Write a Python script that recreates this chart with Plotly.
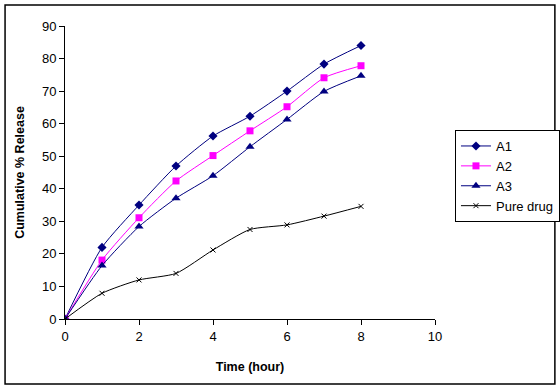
import plotly.graph_objects as go

time_h = [0, 1, 2, 3, 4, 5, 6, 7, 8]
a1 = [0, 22.0, 35.0, 47.0, 56.2, 62.3, 70.0, 78.3, 84.0]
a2 = [0, 18.1, 31.1, 42.4, 50.2, 57.8, 65.2, 74.1, 77.8]
a3 = [0, 16.4, 28.4, 37.1, 44.0, 52.9, 61.3, 69.9, 74.7]
pure = [0, 7.9, 12.0, 14.0, 21.2, 27.5, 28.9, 31.6, 34.6]

series = [
    ("A1", a1, "#000080", dict(symbol="diamond", size=7, color="#000080")),
    ("A2", a2, "#FF00FF", dict(symbol="square", size=7, color="#FF00FF")),
    ("A3", a3, "#000080", dict(symbol="triangle-up", size=8, color="#000080")),
    ("Pure drug", pure, "#000000", dict(symbol="x-thin", size=5, color="#000000",
                                        line=dict(width=1, color="#000000"))),
]

fig = go.Figure()
for name, vals, col, mk in series:
    fig.add_trace(go.Scatter(
        x=time_h, y=vals, name=name, mode="lines+markers",
        line=dict(color=col, width=1, shape="spline", smoothing=0.6),
        marker=mk,
    ))

ff = "Liberation Sans, Arial, sans-serif"

fig.update_layout(
    width=560, height=390,
    margin=dict(l=65, r=125, t=26, b=71, autoexpand=False),
    paper_bgcolor="white", plot_bgcolor="white",
    font=dict(family=ff, size=13, color="#000000"),
    showlegend=True,
    legend=dict(
        x=1.054, y=0.645, xanchor="left", yanchor="top",
        bordercolor="#000000", borderwidth=1, bgcolor="white",
        font=dict(family=ff, size=13, color="#000000"),
        tracegroupgap=0, itemwidth=30,
    ),
    xaxis=dict(
        range=[0, 10], dtick=2, showgrid=False, zeroline=False,
        showline=True, linecolor="#000000", linewidth=1,
        ticks="outside", ticklen=5, tickcolor="#000000", automargin=False,
        title=dict(text="<b>Time (hour)</b>", standoff=19, font=dict(family=ff, size=12.5)),
        tickfont=dict(size=13),
    ),
    yaxis=dict(
        range=[0, 90], dtick=10, showgrid=False, zeroline=False,
        showline=True, linecolor="#000000", linewidth=1,
        ticks="outside", ticklen=5, tickcolor="#000000", automargin=False,
        title=dict(text="<b>Cumulative % Release</b>", standoff=14, font=dict(family=ff, size=12.5)),
        tickfont=dict(size=13),
    ),
    shapes=[dict(
        type="rect", xref="paper", yref="paper",
        x0=-0.162, x1=1.324, y0=-0.2218, y1=1.0717,
        line=dict(color="#000000", width=1.5), fillcolor="rgba(0,0,0,0)",
        layer="above",
    )],
)

fig.write_html("out.html", config={"displayModeBar": False},
               post_script="document.body.style.margin='0';")
